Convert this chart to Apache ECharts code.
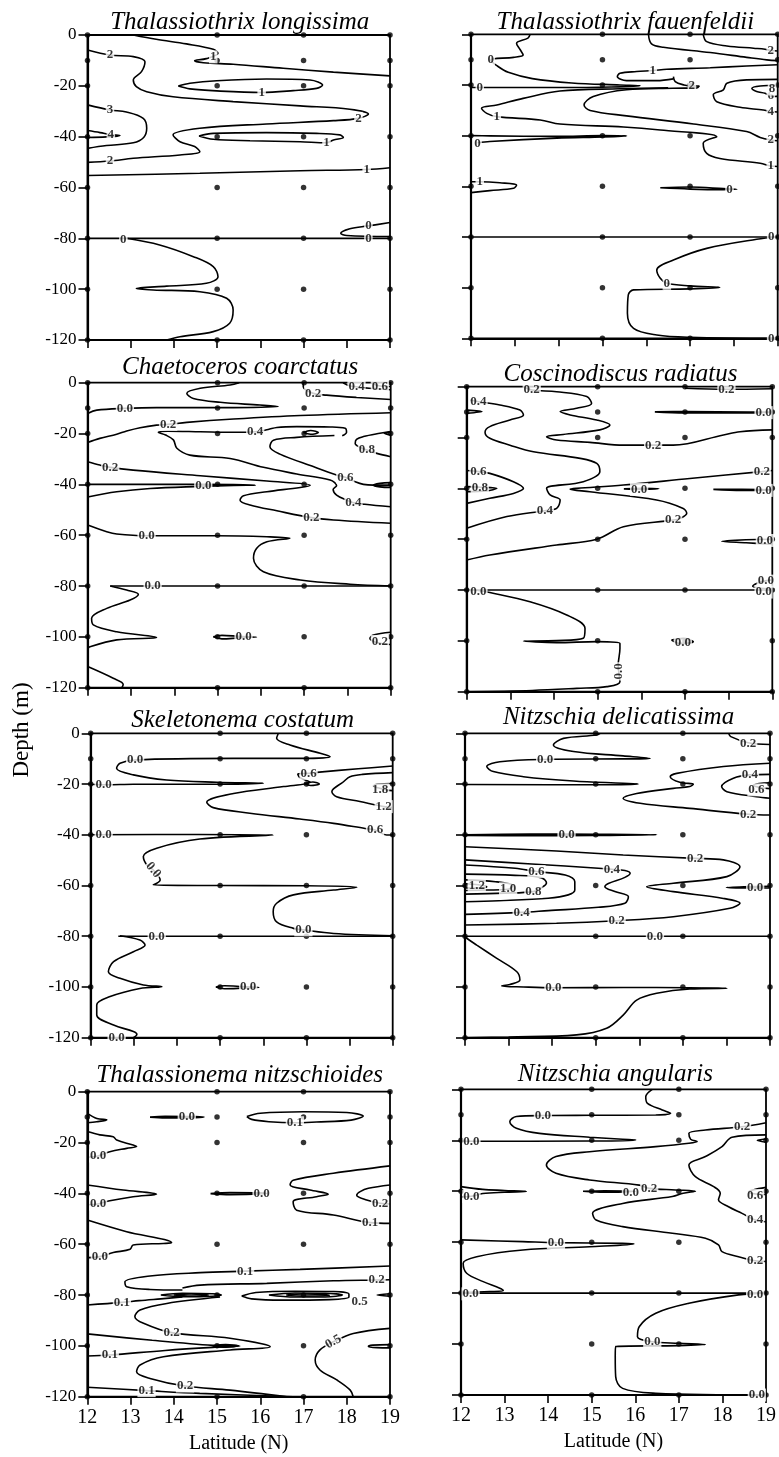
<!DOCTYPE html>
<html>
<head>
<meta charset="utf-8">
<script src="https://cdn.jsdelivr.net/npm/echarts@6/dist/echarts.min.js"></script>
<style>
html,body{margin:0;padding:0;background:#fff}
#chart{width:779px;height:1457px}
</style>
</head>
<body>
<div id="chart"></div>
<script>
// Axes and sampling grid
const latTicks = [12, 13, 14, 15, 16, 17, 18, 19];
const depthTicks = [0, -20, -40, -60, -80, -100, -120];
const stationLats = [12, 15, 17, 19];
const stationDepths = [0, -10, -20, -40, -60, -80, -100, -120];
const speciesNames = [
  'Thalassiothrix longissima', 'Thalassiothrix fauenfeldii',
  'Chaetoceros coarctatus', 'Coscinodiscus radiatus',
  'Skeletonema costatum', 'Nitzschia delicatissima',
  'Thalassionema nitzschioides', 'Nitzschia angularis'
];

// Isolines: each is a list of [latitude, depth] vertices.
// Isoline labels: [latitude, depth, text, rotation].
const longissimaLines = [
  [[13.06,0],[13.59,-1.7],[14.29,-3.5],[14.91,-5.6],[15.02,-7.2],[14.75,-9.3],[14.48,-10.1],[14.68,-10.9],[15.37,-11.5],[16.53,-13.1],[17.69,-14.6],[19,-16.1]],
  [[12,-5.9],[12.52,-7.9],[13.06,-8.5],[13.33,-10.5],[13.25,-14.4],[13.06,-17.7],[13.13,-20.3],[13.37,-22.3],[13.98,-24.3],[15.37,-26.2],[16.92,-27.9],[18.07,-29.2],[18.5,-31.1],[18.27,-32.8],[17.69,-33.7],[16.14,-35],[14.6,-36.7],[13.98,-39.3],[14.14,-42],[14.48,-43.9],[14.6,-45.9],[14.14,-47.2],[13.06,-48.5],[12.52,-49.6],[12,-50.1]],
  [[12,-27.5],[12.52,-29.5],[12.9,-30.3],[13.29,-32.8],[13.37,-36.7],[13.3,-40.3],[13.06,-42.4],[12.44,-43.5],[12,-44.6]],
  [[12,-37.6],[12.29,-38.4],[12.54,-39.2],[12.75,-39.6],[12.44,-40.1],[12,-40.3]],
  [[14.1,-20.1],[14.37,-19],[14.99,-18],[16.14,-17.3],[17.15,-17.7],[17.44,-19.7],[17.3,-21],[16.76,-21.9],[16.03,-22.6],[14.99,-22],[14.37,-21.2],[14.1,-20.1]],
  [[14.58,-39.7],[14.91,-38.7],[16.14,-38.4],[17.3,-38.7],[17.84,-39.3],[17.92,-40.3],[17.69,-41.3],[17.53,-42.4],[16.92,-42],[15.76,-41.6],[14.91,-41],[14.58,-39.7]],
  [[12,-55.3],[14.6,-54.4],[16.92,-53.4],[18.46,-52.9],[19,-52.2]],
  [[12,-80],[19,-80]],
  [[19,-73.8],[18.5,-75.1],[18.07,-76.2],[17.86,-78],[18,-78.9],[19,-79.3]],
  [[12.9,-80],[13.67,-82.6],[14.45,-87.2],[14.91,-91.1],[15.02,-95.1],[14.75,-97.7],[13.83,-98.8],[13.13,-99.7],[13.52,-100.3],[14.6,-101],[15.22,-103.6],[15.37,-108.2],[15.29,-113.4],[14.91,-116.7],[14.14,-118.7],[13.83,-120]]
];
const longissimaLabels = [
  [14.91,-8.6,'1'],[12.52,-7.9,'2'],[18.27,-32.8,'2'],[12.52,-49.6,'2'],[12.52,-29.5,'3'],[12.54,-39.2,'4'],
  [16.03,-22.6,'1'],[17.53,-42.4,'1'],[18.46,-52.9,'1'],[18.5,-75.1,'0'],[18.5,-80.2,'0'],[12.83,-80.4,'0']
];

const fauenfeldiiLines = [
  [[13.35,0],[13.3,-1.5],[13.04,-3.6],[13.12,-6],[13.19,-8.2],[12.97,-9.1],[12.45,-10.1],[12.6,-12.5],[12.85,-15],[13.4,-17.5],[14.3,-19.2],[15.4,-20],[15.86,-20.3],[15.2,-20.8],[14,-21],[12.35,-21],[12,-21]],
  [[17.3,0],[17.38,-2.9],[17.84,-4.6],[18.45,-5.5],[18.71,-5.9],[18.84,-6.4],[19,-6.6]],
  [[16.05,0],[16.12,-3.8],[16.39,-5.1],[17.46,-7.2],[18.29,-9.1],[18.75,-10.1],[19,-10.4]],
  [[19,-12],[18.29,-12.5],[17.46,-13.2],[16.47,-13.8],[16.15,-14.3],[15.78,-14.7],[15.4,-15.4],[15.34,-16.7],[15.55,-18.3],[16.24,-18.3],[16.62,-17.6]],
  [[16.62,-16.7],[16.66,-18.7],[16.86,-20],[17.04,-20.4],[17.21,-20.4],[17.15,-21.2],[16.6,-21.3],[15.55,-21.9],[14.79,-24.6],[14.58,-27.9],[14.72,-30.1],[15.55,-32.2],[17.08,-35.4],[18.29,-38.4],[18.6,-40.7],[18.84,-41.7],[19,-42]],
  [[16.5,-21.1],[15.4,-21.5],[14.03,-22.4],[13.19,-25.3],[12.59,-27.9],[12.24,-29.2],[12.36,-31.2],[12.59,-32.5],[13.58,-33.8],[14.03,-35.4],[15.48,-36.6],[16.32,-37.8],[17.61,-40.4],[17.3,-43],[17.38,-47],[17.68,-49],[18.6,-50.9],[18.84,-52],[19,-52.2]],
  [[19,-17.8],[18.29,-18],[17.84,-19.3],[17.76,-21.9],[17.53,-23.9],[17.61,-26.6],[18.14,-28.8],[18.67,-29.9],[18.84,-30.5],[19,-30.7]],
  [[19,-20],[18.6,-20.4],[18.41,-21.3],[18.52,-22.6],[18.71,-23.3],[18.84,-24.3],[19,-24.5]],
  [[12,-40],[12.43,-40.1],[13.96,-40.3],[15.02,-40],[15.55,-40.1],[15.02,-40.5],[13.96,-41],[12.43,-42.3],[12.15,-42.8]],
  [[12,-58.2],[12.2,-58.2],[12.66,-58.6],[13.04,-59.5],[12.97,-60.8],[12.43,-61.7],[12,-62.5]],
  [[16.32,-60.6],[17,-60.3],[17.76,-60.9],[18.07,-61.2],[17.76,-61.3],[17,-61.1],[16.32,-60.6]],
  [[12,-80],[19,-80]],
  [[19,-80],[18.52,-80.9],[17.38,-84.5],[16.62,-89.1],[16.24,-93],[16.32,-96.3],[16.47,-98.3],[17,-99.3],[17.68,-99.9],[17,-100.5],[15.71,-100.9],[15.59,-102.9],[15.57,-110.1],[15.71,-116.1],[16.24,-118.7],[17,-119.6],[19,-120]]
];
const fauenfeldiiLabels = [
  [12.45,-10.1,'0'],[12.2,-21,'0'],[18.84,-6.4,'2'],[16.15,-14.3,'1'],[17.04,-20.4,'2'],[12.59,-32.5,'1'],
  [18.84,-41.7,'2'],[18.84,-52,'1'],[18.84,-30.5,'4'],[18.84,-24.3,'6'],[18.87,-21.6,'8'],[12.15,-43.1,'0'],
  [12.2,-58.2,'1'],[17.9,-61.2,'0'],[18.85,-80,'0'],[16.47,-98.3,'0'],[18.85,-120,'0']
];

const coarctatusLines = [
  [[15.5,0],[15.29,-0.9],[14.6,-2.2],[14.29,-4.2],[14.44,-6.2],[15.06,-7.7],[15.98,-8.8],[16.4,-9.4],[15.37,-9.8],[13.59,-9.8],[12.86,-10.1],[12.21,-10.8],[12,-12.1]],
  [[16.98,0],[16.98,-1.6],[17.21,-4.2],[17.52,-4.9],[18.21,-5.8],[19,-6.6]],
  [[17.9,0],[18.05,-1.2],[18.21,-1.6],[18.5,-2.2],[19,-2.8]],
  [[18.55,0],[18.75,-1.3],[19,-1.5]],
  [[12,-23.5],[12.28,-21.9],[12.67,-20.3],[12.9,-19],[13.21,-17.7],[13.59,-16.7],[13.86,-16.4],[14.29,-15.6],[15.37,-14.3],[16.91,-12.9],[19,-11.8]],
  [[17.88,-20.9],[17.98,-19.5],[17.95,-17.9],[17.6,-17.4],[16.83,-17.3],[16.37,-17.6],[16.17,-18.4],[15.87,-19.3],[15.37,-19.5],[14.6,-19.3],[13.85,-19.1],[13.63,-19.5],[13.8,-20.6],[13.98,-22.5],[14.06,-25.8],[14.36,-28.5],[15.29,-29.8],[16.06,-33.3],[16.83,-35.9],[17.6,-38.3],[17.75,-40.5],[17.67,-42],[17.75,-44.2],[17.98,-46.2],[18.14,-47.2],[18.4,-47.8],[19,-48.8]],
  [[17.7,-20.8],[16.83,-21.5],[16.29,-22.6],[16.21,-25.2],[16.44,-28.1],[17.21,-33],[17.75,-36.3],[17.95,-37.2],[18.18,-39],[18.37,-40],[18.6,-40.3],[19,-40.3]],
  [[19,-19.2],[18.75,-19.9],[18.37,-21.2],[18.21,-22.3],[18.18,-23.9],[18.3,-25.5],[18.45,-26.5],[18.68,-27.8],[19,-29.1]],
  [[19,-19.4],[18.85,-19.9],[19,-20.6]],
  [[16.98,-19.6],[17.15,-18.8],[17.33,-19.6],[17.15,-20.3],[16.98,-19.6]],
  [[19,-39.3],[18.75,-39.6],[18.6,-40.3],[18.75,-41],[19,-41.2]],
  [[12,-31.1],[12.28,-32.4],[12.52,-33.3],[13.05,-34.4],[14.6,-36.6],[16.14,-38.7],[17.14,-40.3],[16.91,-41.2],[16.14,-42.9],[15.6,-44.5],[15.52,-46.2],[15.75,-48.1],[16.37,-50.4],[17.17,-53.1],[17.68,-54],[19,-55.3]],
  [[12,-45],[12.67,-42.9],[13.44,-41.6],[14.6,-40.8],[15.37,-40.4],[15.87,-40.3],[15.37,-40.05],[13.83,-40],[12,-40]],
  [[12,-56],[12.44,-58.6],[12.67,-59.5],[13.36,-60.2],[14.98,-60.2],[16.14,-60.6],[16.67,-61.2],[16.14,-62.6],[15.9,-65.2],[15.83,-69.1],[16.06,-74.4],[16.91,-77.6],[18.06,-79.3],[19,-80]],
  [[12.52,-80],[19,-80]],
  [[12.52,-80],[12.9,-81.6],[13.17,-83.3],[12.98,-85.5],[12.44,-88.8],[12.09,-92.7],[12.13,-95.3],[12.67,-98],[13.59,-100.2],[12.67,-101.2],[12.05,-103.9],[12,-104.8]],
  [[12,-111.7],[12.59,-116.3],[12.82,-118.7],[12.79,-120]],
  [[14.9,-100],[15.1,-99.4],[15.5,-99.8],[15.9,-100.1],[15.5,-100.4],[15.1,-100.8],[14.9,-100]],
  [[19,-98.2],[18.6,-99.3],[18.52,-100.6],[18.68,-102.2],[19,-103]]
];
const coarctatusLabels = [
  [12.86,-10.1,'0.0'],[17.21,-4.2,'0.2'],[18.21,-1.6,'0.4'],[18.75,-1.5,'0.6'],[13.86,-16.4,'0.2'],
  [15.87,-19.3,'0.4'],[18.14,-47.2,'0.4'],[17.95,-37.2,'0.6'],[18.45,-26.5,'0.8'],[12.52,-33.3,'0.2'],
  [17.17,-53.1,'0.2'],[14.67,-40.6,'0.0'],[13.36,-60.2,'0.0'],[13.5,-80,'0.0'],[15.6,-100.1,'0.0'],[18.75,-101.8,'0.2']
];

const radiatusLines = [
  [[13.3,0],[13.49,-1.3],[14.06,-2],[14.75,-3.9],[14.86,-6.6],[14.52,-8.5],[14.14,-9.8],[14.37,-11.1],[14.98,-13.1],[15.28,-15.1],[15.05,-17],[14.21,-18.8],[13.83,-19.7],[14.06,-21],[14.82,-21.9],[15.59,-23],[16.27,-23],[16.73,-23],[17.88,-19],[18.26,-17.7],[19,-17]],
  [[17.0,-0.6],[17.95,-1],[19,-0.8]],
  [[16.31,-9.9],[17,-9.8],[18.5,-10],[19,-10],[18.5,-10.3],[17,-10.3],[16.31,-9.9]],
  [[12.08,-5.2],[12.27,-5.9],[12.76,-7.2],[13.22,-9.2],[13.3,-11.1],[12.99,-13.1],[12.53,-15.7],[12.42,-17.9],[12.53,-20.3],[12.99,-23],[13.53,-25.6],[14.6,-28.2],[14.98,-30.2],[15.05,-33.4],[14.67,-37.4],[13.83,-40],[13.91,-42.6],[14.14,-44.6],[14.06,-47.9],[13.79,-48.8],[12.92,-51.1],[12,-55.7]],
  [[12,-9.2],[12.35,-9.8],[12,-10.5]],
  [[12,-33],[12.27,-33.4],[12.53,-34.1],[13.07,-37.4],[13.3,-40],[13.07,-42],[12.53,-43.9],[12,-45.9]],
  [[12,-39.3],[12.27,-39.5],[12.69,-40],[12.45,-41],[12,-41.3]],
  [[19,-33],[18.76,-33.4],[17.11,-36.1],[15.59,-38.7],[14.52,-40],[14.37,-40.3],[14.82,-41.3],[16.35,-44.6],[16.96,-47.9],[17.04,-49.8],[16.89,-51.8],[16.73,-52.5],[15.59,-55.1],[14.98,-60],[14.06,-62.3],[12.53,-66.2],[12,-68.2]],
  [[15.6,-40.2],[16.0,-40],[16.4,-40.1],[16.0,-40.4],[15.6,-40.2]],
  [[17.65,-40.4],[18.3,-40.4],[19,-40.5],[18.3,-40.8],[17.65,-40.4]],
  [[19,-60],[18.4,-60.2],[17.84,-60.8],[18.4,-61.4],[19,-62]],
  [[19,-76],[18.7,-77],[18.55,-78.5],[18.8,-79.3],[19,-79.5]],
  [[12,-80],[19,-80]],
  [[12.2,-80],[12.53,-81],[13.45,-84.6],[14.29,-89.8],[14.71,-95.1],[14.67,-99],[14.06,-99.9],[13.3,-100.1],[14.06,-100.7],[14.98,-100.3],[15.51,-101],[15.51,-103],[15.47,-109.5],[15.51,-116.1],[15.21,-118],[14.52,-118.7],[13.5,-119.5],[12,-120]],
  [[16.69,-99.7],[16.96,-99],[17.19,-100.3],[16.89,-101],[16.69,-99.7]]
];
const radiatusLabels = [
  [13.49,-1.3,'0.2'],[16.27,-23,'0.2'],[17.95,-1,'0.2'],[18.8,-10.2,'0.0'],[12.27,-5.9,'0.4'],[13.79,-48.8,'0.4'],
  [12.27,-33.4,'0.6'],[12.3,-39.6,'0.8'],[18.76,-33.4,'0.2'],[16.73,-52.5,'0.2'],[15.95,-40.4,'0.0'],
  [18.8,-40.8,'0.0'],[18.83,-60.5,'0.0'],[18.85,-76.5,'0.0'],[12.27,-80.8,'0.0'],[18.8,-80.8,'0.0'],
  [15.47,-112,'0.0',90],[16.95,-100.6,'0.0']
];

const costatumLines = [
  [[16.35,0],[16.31,-2],[16.62,-4.6],[17.32,-7.9],[17.55,-9.2],[16.85,-9.9],[15.31,-9.9],[13.03,-10.5],[12.68,-11.8],[12.6,-13.8],[12.99,-16.4],[13.76,-18.4],[14.92,-19.3],[16,-19.7],[14.92,-20.1],[12.99,-20.1],[12.37,-20.3],[12,-20.1]],
  [[19,-12.9],[18.2,-14],[17.3,-15.3],[17.05,-15.8],[16.8,-16],[16.85,-17.5],[17.09,-19.3],[16.47,-21],[15.31,-23.7],[14.69,-27.2],[14.84,-29.3],[15.69,-31.5],[16.85,-33.8],[17.63,-35.5],[18.36,-37.5],[18.59,-38.1],[18.86,-40.1],[19,-40.1]],
  [[16.95,-19.8],[17.15,-19.2],[17.3,-20],[17.1,-20.6],[16.95,-19.8]],
  [[19,-15.5],[18.3,-16.2],[18.01,-17.1],[17.86,-19.1],[17.59,-23],[17.7,-25],[18.24,-26.9],[18.79,-28.9],[19,-29.3]],
  [[19,-19.8],[18.65,-20],[18.55,-20.8],[18.7,-21.7],[18.85,-22.3],[19,-22.6]],
  [[12,-40],[14.5,-39.9],[16.23,-40.1],[14.53,-41.7],[13.53,-45.3],[13.22,-48.6],[13.3,-51.9],[13.45,-53.9],[13.61,-57.8],[13.45,-59.8],[15,-60],[17,-60.1],[18.17,-60.7],[17.63,-61.8],[16.7,-63.7],[16.31,-67],[16.23,-70.3],[16.31,-74.3],[16.7,-76.9],[16.93,-77.5],[17.63,-78.9],[19,-79.8]],
  [[12.64,-80],[19,-80]],
  [[12.68,-79.8],[13.14,-81.5],[13.26,-83.5],[12.99,-86.1],[12.53,-90],[12.41,-94],[12.68,-96.6],[13.22,-99.2],[13.65,-99.9],[13.14,-100.6],[12.45,-103.8],[12.14,-107.1],[12.14,-111.1],[12.53,-115],[12.99,-117.6],[13.07,-118.7],[12.99,-120]],
  [[14.9,-100],[15.1,-99.5],[15.5,-99.8],[15.9,-100.2],[15.5,-100.5],[15.1,-100.7],[14.9,-100]]
];
const costatumLabels = [
  [13.03,-10.5,'0.0'],[12.3,-20.2,'0.0'],[17.05,-15.8,'0.6'],[18.59,-38.1,'0.6'],[18.79,-28.9,'1.2'],[18.71,-22.3,'1.8'],
  [12.3,-40,'0.0'],[13.45,-53.9,'0.0',-50],[16.93,-77.5,'0.0'],[13.53,-80,'0.0'],[12.6,-120,'0.0'],[15.65,-100,'0.0']
];

const delicatissimaLines = [
  [[15.1,0],[15.02,-0.7],[14.26,-2],[14.03,-4.6],[14.49,-7.2],[15.63,-8.9],[16.25,-9.9],[15.63,-10.1],[13.84,-10.3],[12.8,-11.2],[12.5,-13.1],[12.65,-15.1],[13.34,-17.1],[14.49,-18.8],[15.63,-19.7],[15.98,-20],[15.25,-20.3],[12,-20.2]],
  [[18.05,0],[18.1,-1.3],[18.5,-3.7],[19,-4.4]],
  [[19,-11.8],[17.93,-13.1],[16.86,-15.8],[16.71,-17.1],[16.93,-19.3],[17.24,-20.1],[17.16,-21],[16.78,-21.7],[15.94,-23.7],[15.63,-25.6],[16.02,-27.6],[17.16,-29.6],[18.5,-31.9],[19,-32.2]],
  [[19,-16.2],[18.54,-16.4],[18.16,-17.7],[17.89,-21],[18.01,-23],[18.69,-25],[19,-25.6]],
  [[19,-19.5],[18.75,-19.8],[18.62,-20.5],[18.8,-21.5],[19,-21.8]],
  [[12,-40],[13.5,-39.7],[15,-39.8],[16.4,-40],[15,-40.3],[13.5,-40.4],[12,-40.3]],
  [[12,-44.7],[14.1,-46.4],[15.63,-48],[17.28,-49.3],[17.93,-49.9],[18.31,-52.6],[18.01,-56.5],[16.78,-59.1],[16.17,-60.5],[16.78,-62.4],[17.93,-65.1],[18.31,-67],[18.08,-69],[16.78,-72.3],[15.48,-73.9],[14.1,-74.9],[12,-75.6]],
  [[12,-49.9],[13.53,-51.5],[15.06,-53.2],[15.37,-53.6],[15.67,-54.1],[15.79,-55.2],[15.67,-56.8],[15.29,-59.2],[15.21,-60.5],[15.44,-62.4],[15.75,-64.4],[15.67,-67],[15.06,-68.6],[13.91,-69.9],[13.3,-70.6],[12,-71.4]],
  [[12,-51.9],[13.15,-53.2],[13.64,-54.5],[14.3,-55.9],[14.52,-58.5],[14.52,-61.8],[14.37,-63.7],[13.91,-65],[12.77,-66],[12,-66.4]],
  [[12,-55.5],[13.15,-56],[13.76,-57],[13.87,-59],[13.76,-60.8],[13.57,-62.4],[12.9,-63],[12,-63.4]],
  [[12,-57.8],[12.7,-58.5],[13.1,-60],[12.99,-61.5],[12.5,-61.8],[12,-62]],
  [[12,-59.3],[12.3,-59.7],[12.5,-60.5],[12.3,-61],[12,-61]],
  [[19,-60.3],[18.4,-60.5],[18.0,-60.8],[18.4,-61],[19,-61]],
  [[12,-80],[19,-80]],
  [[12,-80],[12.04,-80.8],[12.27,-83.5],[12.73,-88.7],[13.19,-94],[13.26,-97.3],[13.03,-99],[12.84,-99.6],[13.34,-100],[14.03,-100.3],[15.63,-100.2],[17.16,-100.3],[18.01,-100.5],[17.16,-100.8],[16.4,-102.5],[15.94,-105.2],[15.63,-111.1],[15.25,-116.3],[14.56,-118.9],[13,-119.7],[12,-120]]
];
const delicatissimaLabels = [
  [13.84,-10.3,'0.0'],[18.5,-3.9,'0.2'],[18.5,-31.9,'0.2'],[18.54,-16.4,'0.4'],[18.69,-22.3,'0.6'],[14.33,-40.1,'0.0'],
  [17.28,-49.3,'0.2'],[15.48,-73.9,'0.2'],[15.37,-53.6,'0.4'],[13.3,-70.6,'0.4'],[13.64,-54.5,'0.6'],[13.57,-62.4,'0.8'],
  [12.99,-61.3,'1.0'],[12.27,-60,'1.2'],[18.66,-60.9,'0.0'],[16.36,-80,'0.0'],[14.03,-100.3,'0.0']
];

const nitzschioidesLines = [
  [[12,-8.5],[12.22,-10.5],[12.45,-11.1],[12.22,-11.8],[12,-12.2]],
  [[13.45,-10],[13.8,-9.7],[14.5,-9.8],[14.7,-10],[14.5,-10.2],[13.8,-10.3],[13.45,-10]],
  [[15.69,-9.8],[16,-8.5],[17,-7.9],[18,-8.2],[18.38,-9.6],[18.1,-11.2],[17.3,-11.9],[16.8,-12.2],[16.2,-11.8],[15.8,-10.9],[15.69,-9.8]],
  [[12,-15.7],[12.29,-17],[12.6,-17.7],[12.68,-19],[13.06,-21],[13.14,-21.6],[12.91,-22.3],[12.52,-23.6],[12.25,-25.3],[12,-25.8]],
  [[12,-36.7],[12.83,-38.7],[13.6,-40.3],[13.06,-41.3],[12.52,-42.9],[12.25,-44.2],[12,-44.5]],
  [[14.85,-40.1],[15.3,-39.7],[16,-39.8],[16.15,-40.1],[15.3,-40.5],[14.85,-40.1]],
  [[19,-29.2],[17.69,-32.1],[16.76,-34.8],[16.69,-36.7],[17.15,-38.7],[17.57,-40.3],[17.3,-41.3],[16.76,-43.3],[16.84,-46.6],[17.69,-48.5],[18.54,-51.5],[19,-51.8]],
  [[19,-36.7],[18.5,-38],[18.31,-39.3],[18.23,-40.7],[18.46,-42.6],[18.77,-43.9],[19,-44.2]],
  [[12,-50.5],[12.91,-55.1],[13.95,-59.4],[13.76,-59.7],[13.06,-60.3],[12.99,-62],[12.6,-63.3],[12.29,-64.9],[12,-65.3]],
  [[19,-68.6],[16.92,-69.9],[15.65,-70.6],[14.61,-71.2],[13.45,-72.5],[12.87,-74.8],[12.91,-76.7],[13.45,-77.8],[14.2,-78]],
  [[14.2,-77.2],[14.61,-76.1],[16.15,-75.4],[17.69,-74.4],[18.69,-74.1],[19,-74]],
  [[12,-83.9],[12.8,-82.9],[13.2,-82.2],[13.7,-81.5],[14.2,-80.8]],
  [[13.7,-80],[14.2,-79.3],[14.9,-79.5],[15.1,-80],[14.9,-80.5],[14.2,-80.7],[13.7,-80]],
  [[14.0,-80],[14.4,-79.6],[14.8,-80],[14.4,-80.4],[14.0,-80]],
  [[15.07,-80.8],[13.84,-83.3],[13.22,-85.9],[13.1,-88.5],[13.3,-91.1],[13.95,-94.8],[15.3,-97],[16.23,-100.3],[15.3,-101.6],[13.76,-104.3],[13.22,-107.5],[13.14,-110.2],[13.45,-112.8],[14.26,-115.8],[15.3,-117.4],[16.61,-120]],
  [[12,-95.3],[13.5,-97.8],[14.9,-99.8],[15.53,-100.1],[14.9,-100.6],[13.8,-101.8],[12.52,-103.6],[12,-104]],
  [[14.9,-100],[15.2,-99.5],[15.5,-100],[15.2,-100.5],[14.9,-100]],
  [[12,-116.3],[13.37,-117.6],[14.6,-118.7],[16.76,-120]],
  [[19,-93.1],[18.15,-95.1],[17.69,-98.4],[17.38,-101.6],[17.27,-105.6],[17.38,-109.5],[17.77,-113.4],[18.08,-117.4],[18.15,-120]],
  [[19,-99.5],[18.6,-99.7],[18.5,-100.2],[18.7,-100.7],[19,-100.8]],
  [[15.57,-80.4],[15.9,-79],[16.8,-78.5],[17.7,-78.6],[18.05,-79.6],[18.05,-80.8],[17.6,-81.8],[16.5,-82],[15.8,-81.5],[15.57,-80.4]],
  [[16.2,-80],[16.8,-79.2],[17.5,-79.3],[17.9,-80],[17.5,-80.8],[16.8,-80.8],[16.2,-80]],
  [[16.6,-80],[17,-79.6],[17.5,-79.8],[17.6,-80.2],[17,-80.4],[16.6,-80]],
  [[19,-79.5],[18.7,-80],[19,-80.5]]
];
const nitzschioidesLabels = [
  [14.3,-9.8,'0.0'],[16.8,-12.2,'0.1'],[12.25,-25.3,'0.0'],[12.25,-44.2,'0.0'],[16.03,-40.3,'0.0'],[18.54,-51.5,'0.1'],
  [18.77,-43.9,'0.2'],[12.29,-64.9,'0.0'],[15.65,-70.6,'0.1'],[18.69,-74.1,'0.2'],[12.8,-82.9,'0.1'],[13.95,-94.8,'0.2'],
  [14.26,-115.8,'0.2'],[12.52,-103.6,'0.1'],[13.37,-117.6,'0.1'],[17.69,-98.4,'0.5',30],[18.3,-82.6,'0.5']
];

const angularisLines = [
  [[16.39,0],[16.24,-2.9],[16.28,-5.5],[16.62,-8.1],[16.81,-9.4],[16.47,-10.1],[15,-10.2],[13.88,-10.3],[13.27,-10.7],[13.12,-12.7],[13.27,-15.3],[13.8,-17.3],[14.95,-18.8],[15.71,-19.6],[16.01,-19.9],[15.71,-20.2],[14.95,-20.3],[12.24,-20.4],[12,-20.3]],
  [[19,-13.1],[18.45,-14.7],[17.61,-16],[17.23,-17.3],[17.27,-19.6],[17.42,-20.5],[17.23,-21.2],[16.47,-22.5],[14.95,-24.5],[14.18,-26.4],[13.96,-29.7],[14.18,-33],[14.95,-35.6],[16.09,-37.6],[16.32,-38.9],[16.92,-39.5],[17.38,-40],[17.1,-40.8],[16.85,-42.1],[15.71,-44.8],[15.02,-48.7],[15.1,-51.3],[15.71,-53.9],[16.85,-56.5],[17.61,-58.5],[17.91,-61.1],[17.99,-63.7],[18.37,-65.7],[18.75,-67.3],[19,-67.6]],
  [[19,-17.9],[18.22,-18.8],[17.99,-22.5],[17.61,-26.4],[17.23,-29.7],[17.38,-34.3],[17.8,-38.2],[17.95,-40.8],[17.91,-43.4],[18.14,-46.1],[18.45,-48.7],[18.75,-51.3],[19,-52]],
  [[19,-19.5],[18.8,-20],[19,-20.8]],
  [[19,-38.5],[18.7,-39.5],[18.6,-40.2],[18.72,-41],[19,-41.3]],
  [[12,-38.2],[12.5,-39.3],[13,-39.7],[13.5,-40.1],[13,-40.4],[12.5,-40.9],[12.24,-42],[12,-42.3]],
  [[14.8,-40],[15.3,-39.8],[16,-40],[15.3,-40.4],[14.8,-40]],
  [[12,-59.1],[13.42,-59.8],[14.18,-60.2],[15.71,-60.5],[15.97,-60.7],[14.95,-61.8],[13.42,-63.1],[12.36,-65.7],[12.05,-68.3],[12.13,-72.2],[12.51,-75.5],[12.89,-78.1],[12.97,-79],[12.66,-79.4],[12,-79.8]],
  [[12,-80],[19,-80]],
  [[19,-80],[18.37,-80.7],[17.23,-84],[16.47,-87.9],[16.09,-93.2],[16.05,-97.1],[16.39,-99.1],[17,-99.7],[17.61,-100.2],[17,-100.6],[15.55,-101],[15.54,-104.9],[15.55,-112.8],[15.71,-117.4],[16.47,-119.3],[19,-120]]
];
const angularisLabels = [
  [13.88,-10.3,'0.0'],[12.24,-20.4,'0.0'],[18.45,-14.7,'0.2'],[16.32,-38.9,'0.2'],[18.75,-67.3,'0.2'],[18.75,-51.3,'0.4'],
  [18.75,-41.7,'0.6'],[12.24,-42.1,'0.0'],[15.9,-40.6,'0.0'],[14.18,-60.2,'0.0'],[12.22,-80.3,'0.0'],[18.75,-80.5,'0.0'],
  [16.39,-99.1,'0.0'],[18.79,-120,'0.0']
];

const panelLines = [longissimaLines, fauenfeldiiLines, coarctatusLines, radiatusLines,
  costatumLines, delicatissimaLines, nitzschioidesLines, angularisLines];
const panelLabels = [longissimaLabels, fauenfeldiiLabels, coarctatusLabels, radiatusLabels,
  costatumLabels, delicatissimaLabels, nitzschioidesLabels, angularisLabels];

// Plot frames in pixels: [left, top, right, bottom]
const frames = [
  [87.5, 35, 390, 340], [471, 34.3, 777.7, 338.3],
  [87.7, 382.7, 390.7, 687.7], [466.7, 386.7, 772.3, 691.7],
  [90.7, 733.3, 392.7, 1037.7], [465, 733.3, 770, 1037.7],
  [87.3, 1091.7, 390, 1396.7], [461, 1089.3, 767.7, 1395]
];
const titleTops = [10, 10, 355, 362, 708, 705, 1063, 1062];

const SERIF = '"Liberation Serif", "Times New Roman", serif';

const stations = [];
stationLats.forEach(la => stationDepths.forEach(d => stations.push([la, d])));

const grids = [], xAxes = [], yAxes = [], series = [], titles = [];
frames.forEach((f, i) => {
  const col = i % 2, row = Math.floor(i / 2);
  grids.push({
    left: f[0], top: f[1], width: f[2] - f[0], height: f[3] - f[1],
    show: true, borderColor: '#000', borderWidth: 1.8, backgroundColor: 'transparent'
  });
  xAxes.push({
    gridIndex: i, type: 'value', min: 12, max: 19, interval: 1,
    axisLine: { show: true, onZero: false, lineStyle: { color: '#000', width: 2.2 } },
    axisTick: { show: true, length: 8, lineStyle: { color: '#000', width: 1.6 } },
    axisLabel: { show: row === 3, color: '#000', fontFamily: SERIF, fontSize: 20, margin: 11,
      customValues: latTicks },
    splitLine: { show: false },
    name: row === 3 ? 'Latitude (N)' : '', nameLocation: 'middle', nameGap: 37,
    nameTextStyle: { color: '#000', fontFamily: SERIF, fontSize: 20 }
  });
  yAxes.push({
    gridIndex: i, type: 'value', min: -120, max: 0, interval: 20,
    axisLine: { show: true, onZero: false, lineStyle: { color: '#000', width: 2.2 } },
    axisTick: { show: true, length: 9, lineStyle: { color: '#000', width: 1.6 } },
    axisLabel: { show: col === 0, color: '#000', fontFamily: SERIF, fontSize: 17, margin: 11 },
    splitLine: { show: false }
  });
  titles.push({
    text: speciesNames[i], left: (f[0] + f[2]) / 2 + 1, top: titleTops[i], textAlign: 'center', padding: 0,
    textStyle: { fontFamily: SERIF, fontStyle: 'italic', fontWeight: 'normal', fontSize: 25, color: '#000' }
  });
  panelLines[i].forEach(pts => {
    series.push({
      type: 'line', xAxisIndex: i, yAxisIndex: i, data: pts, smooth: 0.35,
      symbol: 'none', silent: true, z: 2,
      lineStyle: { color: '#000', width: 1.6 }
    });
  });
  series.push({
    type: 'scatter', xAxisIndex: i, yAxisIndex: i, data: stations, symbol: 'circle',
    symbolSize: 5.5, itemStyle: { color: '#000' }, silent: true, z: 3
  });
  series.push({
    type: 'scatter', xAxisIndex: i, yAxisIndex: i, symbolSize: 0, silent: true, z: 4,
    data: panelLabels[i].map(l => ({
      value: [l[0], l[1]], name: l[2],
      label: l[3] ? { rotate: l[3] } : undefined
    })),
    label: {
      show: true, position: 'inside', formatter: '{b}', color: '#000',
      fontFamily: SERIF, fontSize: 13, fontWeight: 'bold',
      backgroundColor: '#fff', padding: [0, 1]
    }
  });
});

const chart = echarts.init(document.getElementById('chart'), null, { renderer: 'canvas' });
chart.setOption({
  animation: false,
  backgroundColor: '#fff',
  title: titles,
  grid: grids,
  xAxis: xAxes,
  yAxis: yAxes,
  series: series,
  graphic: [{
    type: 'text', x: 22, y: 730, rotation: Math.PI / 2,
    style: { text: 'Depth (m)', font: '23px "Liberation Serif"', fill: '#000',
      textAlign: 'center', textVerticalAlign: 'middle' }
  }]
});
</script>
</body>
</html>
